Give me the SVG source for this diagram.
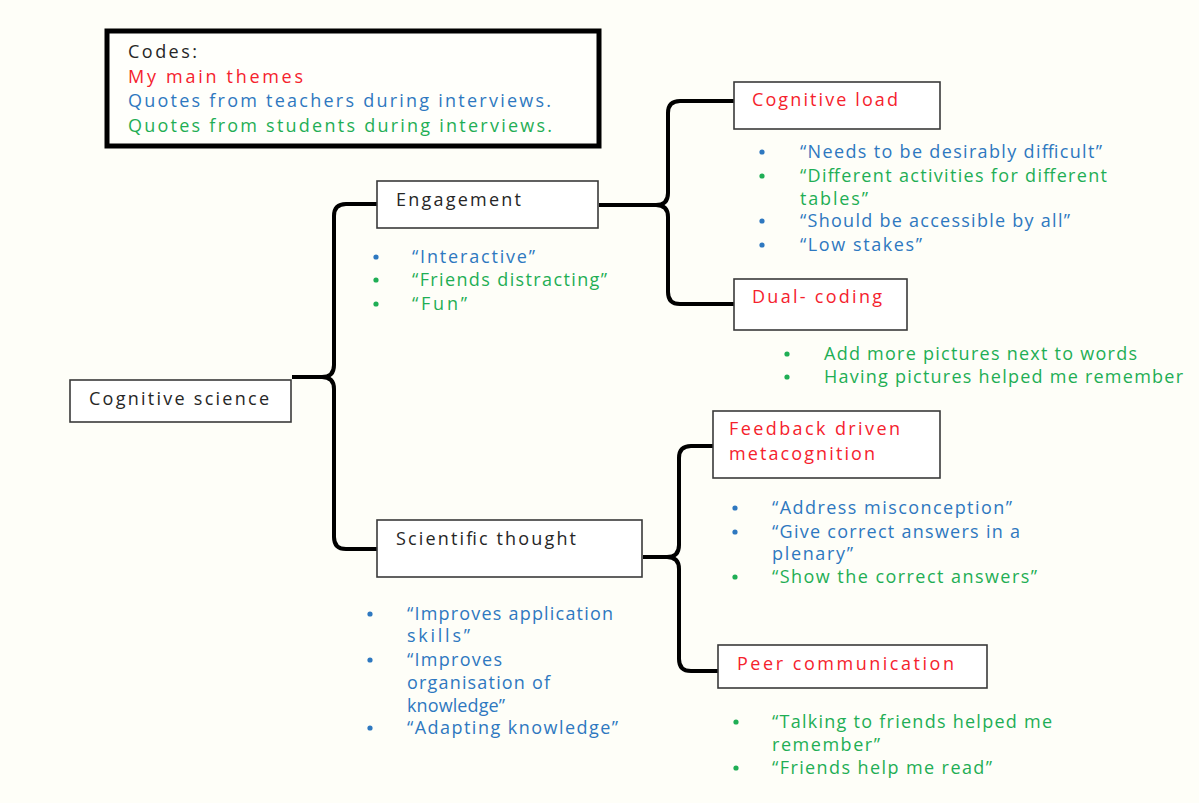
<svg xmlns="http://www.w3.org/2000/svg" width="1199" height="803" viewBox="0 0 1199 803">
<style>
text{font-family:"Open Sans","Noto Sans","Liberation Sans",sans-serif;font-size:18px;font-weight:500}
.k{fill:#262626}.r{fill:#f5222d}.b{fill:#2e78c0}.g{fill:#1fae55}
.box{fill:#fff;stroke:#3a3a3a;stroke-width:1.6}
.br{fill:none;stroke:#000;stroke-width:4;stroke-linejoin:round}
.db{fill:#2e78c0}.dg{fill:#1fae55}
</style>
<rect width="1199" height="803" fill="#fefef8"/>
<g id="legend">
<rect x="107" y="31" width="492" height="115" fill="#fffffb" stroke="#000" stroke-width="5"/>
<text x="128" y="58" class="k" textLength="69" lengthAdjust="spacing">Codes:</text>
<text x="128" y="83" class="r" textLength="175" lengthAdjust="spacing">My main themes</text>
<text x="128" y="107" class="b" textLength="423" lengthAdjust="spacing">Quotes from teachers during interviews.</text>
<text x="128" y="132" class="g" textLength="424" lengthAdjust="spacing">Quotes from students during interviews.</text>
</g>
<g id="connectors">
<path class="br" d="M377,204 H346 Q334,204 334,216 V365 Q334,377 322,377 H292 M322,377 Q334,377 334,389 V537 Q334,549 346,549 H377"/>
<path class="br" d="M734,101 H680 Q668,101 668,113 V193 Q668,205 656,205 H599 M656,205 Q668,205 668,217 V292 Q668,304 680,304 H734"/>
<path class="br" d="M713,446 H691 Q679,446 679,458 V545 Q679,557 667,557 H643 M667,557 Q679,557 679,569 V659 Q679,671 691,671 H718"/>
</g>
<g id="cognitive-science">
<rect class="box" x="70" y="380" width="221" height="42"/>
<text x="89" y="405" class="k" textLength="180" lengthAdjust="spacing">Cognitive science</text>
</g>
<g id="engagement">
<rect class="box" x="377" y="181" width="221" height="47"/>
<text x="396" y="206" class="k" textLength="125" lengthAdjust="spacing">Engagement</text>
<circle class="db" cx="376" cy="257" r="2.6"/><text x="412" y="263" class="b" textLength="123" lengthAdjust="spacing">“Interactive”</text>
<circle class="dg" cx="376" cy="280" r="2.6"/><text x="412" y="286" class="g" textLength="195" lengthAdjust="spacing">“Friends distracting”</text>
<circle class="dg" cx="376" cy="304" r="2.6"/><text x="412" y="310" class="g" textLength="55" lengthAdjust="spacing">“Fun”</text>
</g>
<g id="cognitive-load">
<rect class="box" x="734" y="82" width="206" height="47"/>
<text x="752" y="106" class="r" textLength="146" lengthAdjust="spacing">Cognitive  load</text>
<circle class="db" cx="762" cy="152" r="2.6"/><text x="800" y="158" class="b" textLength="302" lengthAdjust="spacing">“Needs to be desirably difficult”</text>
<circle class="dg" cx="762" cy="176" r="2.6"/><text x="800" y="182" class="g" textLength="307" lengthAdjust="spacing">“Different activities for different</text>
<text x="800" y="205" class="g" textLength="68" lengthAdjust="spacing">tables”</text>
<circle class="db" cx="762" cy="221" r="2.6"/><text x="800" y="227" class="b" textLength="270" lengthAdjust="spacing">“Should be accessible by all”</text>
<circle class="db" cx="762" cy="245" r="2.6"/><text x="800" y="251" class="b" textLength="122" lengthAdjust="spacing">“Low stakes”</text>
</g>
<g id="dual-coding">
<rect class="box" x="734" y="279" width="173" height="51"/>
<text x="752" y="303" class="r" textLength="130" lengthAdjust="spacing">Dual- coding</text>
<circle class="dg" cx="787" cy="354" r="2.6"/><text x="824" y="360" class="g" textLength="313" lengthAdjust="spacing">Add more pictures next to words</text>
<circle class="dg" cx="787" cy="377" r="2.6"/><text x="824" y="383" class="g" textLength="359" lengthAdjust="spacing">Having pictures helped me remember</text>
</g>
<g id="scientific-thought">
<rect class="box" x="377" y="520" width="265" height="57"/>
<text x="396" y="545" class="k" textLength="180" lengthAdjust="spacing">Scientific thought</text>
<circle class="db" cx="370" cy="614" r="2.6"/><text x="407" y="620" class="b" textLength="206" lengthAdjust="spacing">“Improves application</text>
<text x="407" y="642" class="b" textLength="63" lengthAdjust="spacing">skills”</text>
<circle class="db" cx="370" cy="660" r="2.6"/><text x="407" y="666" class="b" textLength="95" lengthAdjust="spacing">“Improves</text>
<text x="407" y="689" class="b" textLength="143" lengthAdjust="spacing">organisation of</text>
<text x="407" y="712" class="b" textLength="98" lengthAdjust="spacing">knowledge”</text>
<circle class="db" cx="370" cy="728" r="2.6"/><text x="407" y="734" class="b" textLength="211" lengthAdjust="spacing">“Adapting knowledge”</text>
</g>
<g id="feedback">
<rect class="box" x="713" y="411" width="227" height="67"/>
<text x="729" y="435" class="r" textLength="171" lengthAdjust="spacing">Feedback driven</text>
<text x="729" y="460" class="r" textLength="146" lengthAdjust="spacing">metacognition</text>
<circle class="db" cx="735" cy="508" r="2.6"/><text x="772" y="514" class="b" textLength="240" lengthAdjust="spacing">“Address misconception”</text>
<circle class="db" cx="735" cy="532" r="2.6"/><text x="772" y="538" class="b" textLength="248" lengthAdjust="spacing">“Give correct answers in a</text>
<text x="772" y="560" class="b" textLength="81" lengthAdjust="spacing">plenary”</text>
<circle class="dg" cx="735" cy="577" r="2.6"/><text x="772" y="583" class="g" textLength="265" lengthAdjust="spacing">“Show the correct answers”</text>
</g>
<g id="peer">
<rect class="box" x="718" y="645" width="269" height="43"/>
<text x="737" y="670" class="r" textLength="217" lengthAdjust="spacing">Peer communication</text>
<circle class="dg" cx="736" cy="722" r="2.6"/><text x="772" y="728" class="g" textLength="280" lengthAdjust="spacing">“Talking to friends helped me</text>
<text x="772" y="751" class="g" textLength="108" lengthAdjust="spacing">remember”</text>
<circle class="dg" cx="736" cy="768" r="2.6"/><text x="772" y="774" class="g" textLength="220" lengthAdjust="spacing">“Friends help me read”</text>
</g>
</svg>
